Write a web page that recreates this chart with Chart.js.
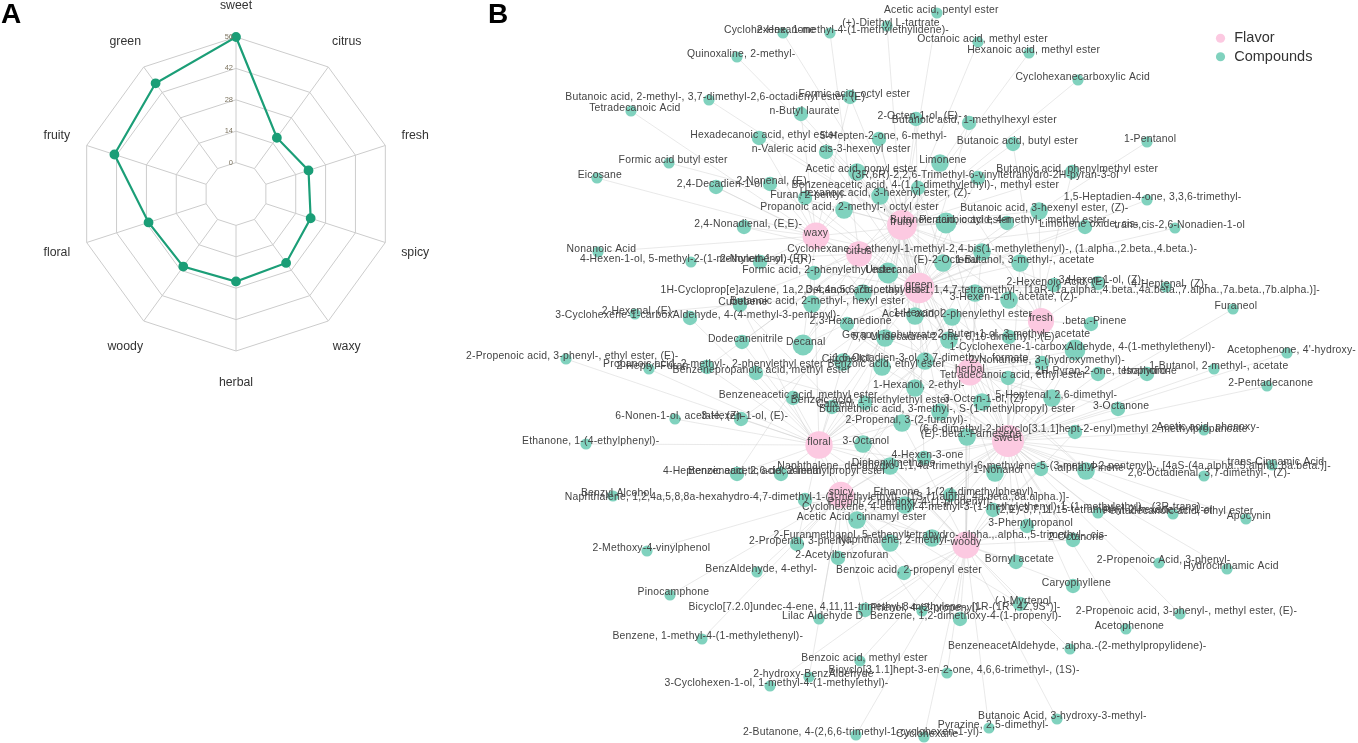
<!DOCTYPE html>
<html>
<head>
<meta charset="utf-8">
<title>Flavor network</title>
<script src="https://cdn.jsdelivr.net/npm/chart.js@4/dist/chart.umd.js"></script>
<style>
  html, body { margin: 0; padding: 0; background: #fff; overflow: hidden; }
  body { width: 1358px; height: 743px; position: relative; font-family: "Liberation Sans", Arial, sans-serif; }
  canvas { position: absolute; display: block; }
  #radar { left: 0; top: 0; }
  #network { left: 460px; top: 0; }
  .panel { position: absolute; top: -3px; font-size: 28px; font-weight: 700; color: #000; line-height: 34px; }
</style>
</head>
<body>
<canvas id="radar" width="480" height="410"></canvas>
<canvas id="network" width="898" height="743"></canvas>
<div class="panel" style="left:1px">A</div>
<div class="panel" style="left:488px">B</div>
<script>
// Panel A
const flavorNames = ['sweet', 'citrus', 'fresh', 'spicy', 'waxy', 'herbal', 'woody', 'floral', 'fruity', 'green'];
const flavorCounts = [56, 17, 20, 21, 24, 25, 26, 27, 43, 47];
const radarTicks = [0, 14, 28, 42, 56];

// Panel B, flavor nodes in the same order as flavorNames
const flavorX = [1008, 859, 1041, 841, 816, 970, 966, 819, 902, 919];
const flavorY = [441, 254, 321, 495, 236, 372, 545, 445, 225, 288];
const flavorCodes = ['s', 'c', 'f', 'p', 'x', 'h', 'o', 'l', 'u', 'g'];

// Panel B, compound nodes. One entry per compound in all four lists.
const compoundNames = [
  'Acetic acid, pentyl ester', '(+)-Diethyl L-tartrate', 'Cyclohexene, 1-methyl-4-(1-methylethylidene)-', '2-Hexanone', 'Quinoxaline, 2-methyl-',
  'Octanoic acid, methyl ester', 'Hexanoic acid, methyl ester', 'Cyclohexanecarboxylic Acid', 'Formic acid, octyl ester', 'Butanoic acid, 2-methyl-, 3,7-dimethyl-2,6-octadienyl ester, (E)-',
  'Tetradecanoic Acid', 'n-Butyl laurate', '2-Octen-1-ol, (E)-', 'Butanoic acid, 1-methylhexyl ester', 'Hexadecanoic acid, ethyl ester',
  '5-Hepten-2-one, 6-methyl-', 'n-Valeric acid cis-3-hexenyl ester', 'Butanoic acid, butyl ester', 'Formic acid butyl ester', 'Limonene',
  '1-Pentanol', 'Acetic acid, nonyl ester', 'Eicosane', '(3R,6R)-2,2,6-Trimethyl-6-vinyltetrahydro-2H-pyran-3-ol', 'Butanoic acid, phenylmethyl ester',
  '2,4-Decadien-1-ol', '2-Nonenal, (E)-', 'Benzeneacetic acid, 4-(1,1-dimethylethyl)-, methyl ester', 'Furan, 2-pentyl-', 'Hexanoic acid, 3-hexenyl ester, (Z)-',
  '1,5-Heptadien-4-one, 3,3,6-trimethyl-', 'Propanoic acid, 2-methyl-, octyl ester', 'Butanoic acid, 3-hexenyl ester, (Z)-', 'Butanoic acid, octyl ester', 'Pentanoic acid, 4-methyl-, methyl ester',
  'Limonene oxide, cis-', 'trans,cis-2,6-Nonadien-1-ol', '2,4-Nonadienal, (E,E)-', 'Nonanoic Acid', 'Cyclohexane, 1-ethenyl-1-methyl-2,4-bis(1-methylethenyl)-, (1.alpha.,2.beta.,4.beta.)-',
  '4-Hexen-1-ol, 5-methyl-2-(1-methylethenyl)-, (R)-', '2-Nonen-1-ol, (E)-', '(E)-2-Octenal', '1-Butanol, 3-methyl-, acetate', 'Formic acid, 2-phenylethyl ester',
  'Undecanal', '1H-Cycloprop[e]azulene, 1a,2,3,4,4a,5,6,7b-octahydro-1,1,4,7-tetramethyl-, [1aR-(1a.alpha.,4.beta.,4a.beta.,7.alpha.,7a.beta.,7b.alpha.)]-', 'Decanoic acid, ethyl ester', 'Cubebene', 'Butanoic acid, 2-methyl-, hexyl ester',
  '2-Hexenoic Acid, (E)-', '3-Hexen-1-ol, (Z)-', '4-Heptenal, (Z)-', '3-Hexen-1-ol, acetate, (Z)-', 'Furaneol',
  '2-Hexenal, (E)-', '1-Hexanol', 'Acetic acid, 2-phenylethyl ester', '3-Cyclohexene-1-carboxAldehyde, 4-(4-methyl-3-pentenyl)-', '2,3-Hexanedione',
  '.beta.-Pinene', 'Geranyl isobutyrate', '5,9-Undecadien-2-one, 6,10-dimethyl-, (E)-', '2-Buten-1-ol, 3-methyl-, acetate', 'Dodecanenitrile',
  'Decanal', '1-Cyclohexene-1-carboxAldehyde, 4-(1-methylethenyl)-', "Acetophenone, 4'-hydroxy-", '2-Propenoic acid, 3-phenyl-, ethyl ester, (E)-', 'Citronellol',
  '1,6-Octadien-3-ol, 3,7-dimethyl-, formate', '2-Nonanone, 3-(hydroxymethyl)-', 'Propanoic acid, 2-methyl-, 2-phenylethyl ester', '2-Heptyl-Furan', 'Benzoic acid, ethyl ester',
  '1-Butanol, 2-methyl-, acetate', 'Benzenepropanoic acid, methyl ester', 'Tetradecanoic acid, ethyl ester', '2H-Pyran-2-one, tetrahydro-', 'Isophorone',
  '2-Pentadecanone', '1-Hexanol, 2-ethyl-', 'Benzeneacetic acid, methyl ester', '5-Heptenal, 2,6-dimethyl-', '3-Octen-1-ol, (Z)-',
  'Benzoic acid, 1-methylethyl ester', 'Carveol', '3-Octanone', 'Butanethioic acid, 3-methyl-, S-(1-methylpropyl) ester', '6-Nonen-1-ol, acetate, (Z)-',
  '3-Hexen-1-ol, (E)-', '2-Propenal, 3-(2-furanyl)-', '(6,6-dimethyl-2-bicyclo[3.1.1]hept-2-enyl)methyl 2-methylpropanoate', 'Acetic acid, phenoxy-', '(E)-.beta.-Farnesene',
  '3-Octanol', 'Ethanone, 1-(4-ethylphenyl)-', '4-Hexen-3-one', 'trans-Cinnamic Acid', 'Diphenylmethane',
  'Naphthalene, decahydro-1,1,4a-trimethyl-6-methylene-5-(3-methyl-2-pentenyl)-, [4aS-(4a.alpha.,5.alpha.,8a.beta.)]-', '1-Nonanol', '.alpha.-Pinene', '2,6-Octadienal, 3,7-dimethyl-, (Z)-', '4-Heptenoic acid, 2,6-decadienal',
  'Benzeneacetic acid, 2-methylpropyl ester', 'Benzyl Alcohol', 'Naphthalene, 1,2,4a,5,8,8a-hexahydro-4,7-dimethyl-1-(1-methylethyl)-, [1S-(1.alpha.,4a.beta.,8a.alpha.)]-', 'Ethanone, 1-(2,4-dimethylphenyl)-', 'Phenol, 2-methoxy-4-(1-propenyl)-',
  'Cyclohexene, 4-ethenyl-4-methyl-3-(1-methylethenyl)-1-(1-methylethyl)-, (3R-trans)-', '(2,E)-3,7,11,15-tetramethyl-2-hexadecen-1-ol', 'Pentadecanoic acid, ethyl ester', 'Apocynin', 'Acetic Acid, cinnamyl ester',
  '3-Phenylpropanol', '2-Furanmethanol, 5-ethenyltetrahydro-.alpha.,.alpha.,5-trimethyl-, cis-', '2-Octanone', '2-Propenal, 3-phenyl-', 'Naphthalene, 2-methyl-',
  '2-Methoxy-4-vinylphenol', '2-Acetylbenzofuran', 'Bornyl acetate', 'BenzAldehyde, 4-ethyl-', 'Benzoic acid, 2-propenyl ester',
  '2-Propenoic Acid, 3-phenyl-', 'Hydrocinnamic Acid', 'Caryophyllene', 'Pinocamphone', 'Bicyclo[7.2.0]undec-4-ene, 4,11,11-trimethyl-8-methylene-, [1R-(1R*,4Z,9S*)]-',
  'Phenol, 4-(2-propenyl)-', '(-)-Myrtenol', 'Lilac Aldehyde D', 'Benzene, 1,2-dimethoxy-4-(1-propenyl)-', '2-Propenoic acid, 3-phenyl-, methyl ester, (E)-',
  'Acetophenone', 'Benzene, 1-methyl-4-(1-methylethenyl)-', 'BenzeneacetAldehyde, .alpha.-(2-methylpropylidene)-', 'Benzoic acid, methyl ester', '2-hydroxy-BenzAldehyde',
  'Bicyclo[3.1.1]hept-3-en-2-one, 4,6,6-trimethyl-, (1S)-', '3-Cyclohexen-1-ol, 1-methyl-4-(1-methylethyl)-', 'Butanoic Acid, 3-hydroxy-3-methyl-', 'Pyrazine, 2,5-dimethyl-', '2-Butanone, 4-(2,6,6-trimethyl-1-cyclohexen-1-yl)-',
  'Cyclohexane'
];
const compoundX = [
  937, 887, 830, 783, 737, 978, 1029, 1078, 850, 709,
  631, 801, 916, 969, 759, 879, 826, 1013, 669, 940,
  1147, 857, 597, 978, 1072, 716, 770, 918, 805, 880,
  1147, 844, 1039, 946, 1007, 1085, 1175, 744, 598, 982,
  691, 760, 943, 1020, 814, 888, 975, 863, 740, 812,
  1054, 1098, 1166, 1009, 1233, 635, 915, 952, 690, 847,
  1091, 885, 949, 1009, 742, 803, 1075, 1287, 566, 843,
  925, 1042, 707, 649, 882, 1214, 756, 1008, 1098, 1147,
  1267, 915, 793, 1052, 982, 865, 832, 1118, 940, 675,
  741, 902, 1075, 1204, 967, 863, 586, 924, 1272, 890,
  1041, 995, 1086, 1204, 737, 781, 613, 805, 950, 905,
  993, 1098, 1173, 1246, 857, 1027, 932, 1073, 797, 890,
  647, 838, 1016, 757, 904, 1159, 1227, 1073, 670, 865,
  922, 1020, 819, 960, 1180, 1126, 702, 1070, 860, 809,
  947, 770, 1057, 989, 856, 924
];
const compoundY = [
  13, 26, 33, 33, 57, 42, 53, 80, 97, 100,
  111, 114, 119, 123, 138, 139, 152, 144, 163, 163,
  142, 172, 178, 178, 172, 187, 184, 188, 198, 196,
  200, 210, 211, 223, 223, 227, 228, 227, 252, 252,
  262, 262, 263, 263, 273, 273, 293, 293, 305, 304,
  285, 283, 287, 300, 309, 314, 316, 317, 318, 324,
  324, 338, 340, 337, 342, 345, 350, 353, 359, 362,
  361, 363, 367, 369, 367, 369, 373, 378, 374, 374,
  386, 388, 398, 398, 402, 403, 407, 409, 412, 419,
  419, 423, 432, 430, 437, 444, 444, 458, 465, 466,
  469, 473, 471, 476, 474, 474, 496, 500, 495, 505,
  510, 513, 514, 519, 520, 526, 538, 540, 544, 543,
  551, 558, 562, 572, 573, 563, 569, 586, 595, 610,
  611, 604, 619, 619, 614, 629, 639, 649, 661, 677,
  673, 686, 719, 728, 735, 737
];
// which flavors each compound links to, one letter per flavor (see flavorCodes)
const compoundLinks = [
  'u', 'u', 'c', 'u', 'u', 'u', 'u', 'u', 'ux', 'u',
  'x', 'xu', 'gu', 'ug', 'xu', 'gu', 'ug', 'uf', 'u', 'cuf',
  'g', 'uxg', 'x', 'ug', 'us', 'xg', 'xg', 'us', 'xg', 'ugs',
  'g', 'uxg', 'ugf', 'uxgs', 'ug', 'cg', 'g', 'xc', 'x', 'ghp',
  'c', 'xg', 'gux', 'ufs', 'lu', 'cuxg', 'ogp', 'uxs', 'op', 'ugs',
  'gu', 'gf', 'g', 'gfu', 's', 'g', 'guf', 'usl', 'cl', 'sg',
  'of', 'ulh', 'ugl', 'uf', 'lc', 'xcug', 'hspf', 's', 'l', 'lug',
  'ulh', 'hf', 'ul', 'l', 'lus', 's', 'ls', 'hs', 'hs', 'hs',
  's', 'uhl', 'ls', 'sgh', 'hsg', 'lu', 'lg', 'sh', 'shu', 'l',
  'lg', 'slo', 'so', 's', 'sgo', 'lho', 'l', 'sg', 's', 'lop',
  'so', 'sul', 'shc', 's', 'lu', 'ls', 'p', 'po', 'sp', 'psl',
  'so', 's', 's', 's', 'spl', 'so', 'ops', 'os', 'pl', 'ops',
  'p', 'ps', 'os', 'p', 'op', 's', 's', 'os', 'p', 'op',
  'p', 'op', 'p', 'op', 's', 's', 'p', 'o', 'o', 'p',
  'o', 'o', 'o', 'o', 'o', 'o'
];

const LABEL_FONT = '"Liberation Sans", Arial, sans-serif';

// Radar: spokes start at the 0 ring and all texts sit outside the plot
const radarExtras = {
  id: 'radarExtras',
  beforeDatasetsDraw(chart) {
    const { ctx, scales: { r } } = chart;
    ctx.save();
    ctx.strokeStyle = '#cccccc';
    ctx.lineWidth = 1;
    flavorNames.forEach((_, i) => {
      const a = r.getPointPositionForValue(i, 0);
      const b = r.getPointPositionForValue(i, 56);
      ctx.beginPath();
      ctx.moveTo(a.x, a.y);
      ctx.lineTo(b.x, b.y);
      ctx.stroke();
    });
    ctx.restore();
  },
  afterDatasetsDraw(chart) {
    const { ctx, scales: { r } } = chart;
    ctx.save();
    ctx.textBaseline = 'middle';
    ctx.fillStyle = '#7d7460';
    ctx.textAlign = 'right';
    ctx.font = '7.5px ' + LABEL_FONT;
    radarTicks.forEach(v => {
      const p = r.getPointPositionForValue(0, v);
      ctx.fillText(String(v), p.x - 3, p.y);
    });
    ctx.fillStyle = '#333';
    ctx.textAlign = 'center';
    ctx.font = '12.3px ' + LABEL_FONT;
    flavorNames.forEach((name, i) => {
      const p = r.getPointPositionForValue(i, 70);
      ctx.fillText(name, p.x, p.y);
    });
    ctx.restore();
  }
};

new Chart(document.getElementById('radar'), {
  type: 'radar',
  data: {
    labels: flavorNames,
    datasets: [{
      data: flavorCounts,
      borderColor: '#1b9e77',
      backgroundColor: '#1b9e77',
      borderWidth: 2.2,
      pointRadius: 3.8,
      fill: false,
      tension: 0,
    }]
  },
  options: {
    responsive: false,
    animation: false,
    layout: { padding: { left: 79, right: 87, top: 37, bottom: 59 } },
    plugins: { legend: { display: false }, tooltip: { enabled: false } },
    scales: {
      r: {
        min: -14,
        max: 56,
        ticks: { stepSize: 14, display: false },
        pointLabels: { display: false },
        angleLines: { display: false },
        grid: { color: '#cccccc', lineWidth: 1, circular: false },
      }
    }
  },
  plugins: [radarExtras]
});

// Network: edges go first, then compound and flavor nodes from the same lists
const flavorIndex = code => flavorCodes.indexOf(code);
const edgePoints = [];
compoundLinks.forEach((links, i) => {
  links.split('').forEach(code => {
    const f = flavorIndex(code);
    edgePoints.push({ x: compoundX[i], y: compoundY[i] }, { x: flavorX[f], y: flavorY[f] }, { x: NaN, y: NaN });
  });
});

const nodeLabels = {
  id: 'nodeLabels',
  afterDatasetsDraw(chart) {
    const { ctx, scales: { x, y } } = chart;
    ctx.save();
    ctx.font = '10.4px ' + LABEL_FONT;
    ctx.letterSpacing = '0.2px';
    ctx.fillStyle = '#444';
    ctx.textAlign = 'center';
    ctx.textBaseline = 'middle';
    compoundNames.forEach((name, i) => {
      const w = ctx.measureText(name).width;
      ctx.fillText(name, x.getPixelForValue(compoundX[i]) + 2 + w * 0.02, y.getPixelForValue(compoundY[i]) - 2.5);
    });
    flavorNames.forEach((name, i) => {
      ctx.fillText(name, x.getPixelForValue(flavorX[i]), y.getPixelForValue(flavorY[i]) - 3);
    });
    ctx.restore();
  }
};

// legend floats top right without taking room from the plot
const legendSpot = {
  id: 'legendSpot',
  afterLayout(chart) {
    const l = chart.legend;
    const w = l.right - l.left;
    const h = l.bottom - l.top;
    l.left = 750;
    l.top = 27;
    l.right = l.left + w;
    l.bottom = l.top + h;
  }
};

new Chart(document.getElementById('network'), {
  type: 'bubble',
  data: {
    datasets: [
      {
        label: 'Flavor',
        order: 1,
        clip: false,
        backgroundColor: '#fcc9e1',
        borderWidth: 0,
        data: flavorNames.map((_, i) => ({ x: flavorX[i], y: flavorY[i], r: 11.5 + flavorCounts[i] * 0.08 })),
      },
      {
        label: 'Compounds',
        order: 2,
        clip: false,
        backgroundColor: '#80d2be',
        borderWidth: 0,
        data: compoundNames.map((_, i) => ({ x: compoundX[i], y: compoundY[i], r: 4 + compoundLinks[i].length * 1.6 })),
      },
      {
        type: 'scatter',
        label: 'edges',
        order: 3,
        showLine: true,
        spanGaps: false,
        pointRadius: 0,
        borderWidth: 1,
        borderColor: 'rgba(200,200,200,0.4)',
        data: edgePoints,
      }
    ]
  },
  options: {
    responsive: false,
    animation: false,
    layout: { padding: 0, autoPadding: false },
    plugins: {
      tooltip: { enabled: false },
      legend: {
        position: 'chartArea',
        align: 'start',
        labels: {
          usePointStyle: true,
          pointStyle: 'circle',
          boxWidth: 13,
          boxHeight: 6.5,
          padding: 4,
          color: '#333',
          font: { family: LABEL_FONT, size: 14.5 },
          filter: item => item.text !== 'edges',
        }
      }
    },
    scales: {
      x: { type: 'linear', min: 460, max: 1358, display: false },
      y: { type: 'linear', min: 0, max: 743, reverse: true, display: false },
    }
  },
  plugins: [nodeLabels, legendSpot]
});
</script>
</body>
</html>
